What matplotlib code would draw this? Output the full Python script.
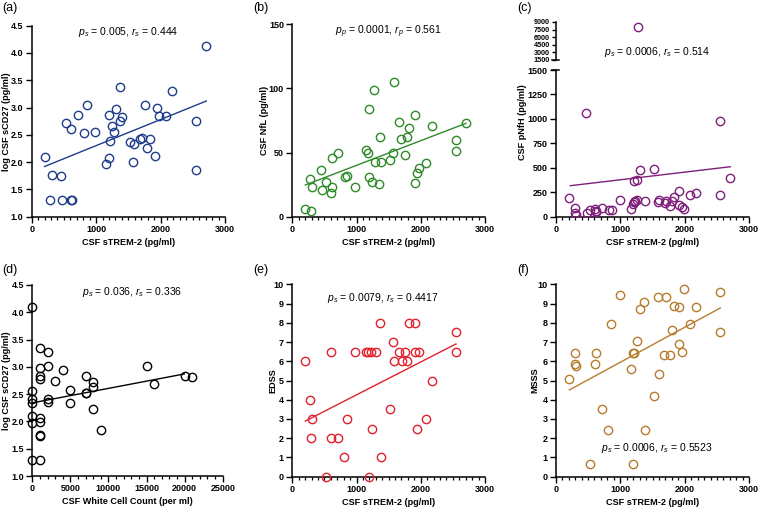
import numpy as np
import matplotlib
matplotlib.use('Agg')
import matplotlib.pyplot as plt
from matplotlib.ticker import MultipleLocator, FormatStrFormatter

plt.rcParams['font.family'] = ['Liberation Sans', 'DejaVu Sans']
plt.rcParams['mathtext.fontset'] = 'custom'
plt.rcParams['mathtext.rm'] = 'Liberation Sans'
plt.rcParams['mathtext.it'] = 'Liberation Sans:italic'

#panel (a): log CSF sCD27 vs sTREM-2
a_x = [210, 310, 455, 290, 471, 610, 626, 528, 615, 714, 812, 859, 988, 1153, 1195, 1215, 1195, 1252,
       1283, 1303, 1371, 1396, 1376, 1521, 1577, 1593, 1681, 1712, 1831, 1759, 1790, 1919, 1945, 1981,
       2090, 2172, 2550, 2555, 2705]
a_y = [2.10, 1.76, 1.75, 1.31, 1.30, 1.30, 1.30, 2.71, 2.60, 2.86, 2.53, 3.04, 2.56, 1.97, 2.08, 2.38,
       2.86, 2.66, 2.55, 2.98, 2.76, 2.82, 3.37, 2.36, 2.01, 2.33, 2.42, 2.44, 2.42, 3.04, 2.25, 2.11,
       3.00, 2.85, 2.84, 3.31, 1.86, 2.75, 4.12]
a_fit_x = [200, 2710]
a_fit_y = [1.92, 3.12]

#panel (b): CSF NfL
b_x = [202, 296, 280, 301, 446, 467, 524, 602, 612, 612, 706, 815, 851, 981, 1142, 1183, 1194, 1189,
       1246, 1272, 1282, 1355, 1365, 1386, 1516, 1568, 1578, 1666, 1697, 1754, 1785, 1822, 1910, 1905,
       1936, 1972, 2081, 2169, 2548, 2548, 2704]
b_y = [6.2, 4.2, 29.1, 23.1, 36.1, 21.1, 27.3, 18.7, 45.8, 23.1, 49.9, 30.9, 31.7, 23.1, 52.3, 49.9,
       83.7, 31.2, 27.3, 98.8, 42.9, 25.7, 62.1, 42.9, 43.9, 49.9, 105, 73.8, 60.8, 48.1, 61.9, 68.9,
       79, 26, 34.1, 38, 42.1, 70.7, 60.1, 51.2, 72.8]
b_fit_x = [202, 2704]
b_fit_y = [24.7, 72.8]

#panel (c): CSF pNfH (broken axis)
c_x = [212, 294, 305, 315, 470, 480, 537, 615, 625, 630, 713, 826, 868, 992, 1162, 1193, 1214, 1234,
       1265, 1307, 1219, 1265, 1379, 1524, 1585, 1596, 1694, 1715, 1766, 1797, 1833, 1911, 1911, 1952,
       1983, 2076, 2179, 2551, 2551, 2706, 1281]
c_y = [194, 85, 41, 17, 1064, 41, 68, 75, 48, 60, 85, 72, 72, 170, 75, 126, 153, 160, 170, 477, 361,
       372, 157, 487, 150, 167, 136, 157, 109, 160, 205, 262, 123, 95, 78, 222, 239, 978, 222, 399, 7950]
c_fit_x = [227, 2706]
c_fit_y = [317, 511]

#panel (d): log CSF sCD27 vs white cell count
d_x = [0, 0, 0, 0, 0, 0, 0, 1000, 1000, 1000, 1000, 1000, 1000, 1000, 1000, 1000, 2000, 2000, 2000,
       2000, 3000, 4000, 5000, 5000, 7000, 7000, 7000, 8000, 8000, 8000, 9000, 15000, 16000, 20000, 21000]
d_y = [4.09, 2.56, 2.41, 2.33, 2.10, 1.97, 1.30, 3.35, 2.98, 2.84, 2.78, 2.07, 1.99, 1.75, 1.74, 1.30,
       3.28, 3.02, 2.41, 2.36, 2.74, 2.95, 2.58, 2.34, 2.83, 2.53, 2.52, 2.73, 2.64, 2.23, 1.84, 3.02,
       2.69, 2.83, 2.81]
d_fit_x = [0, 19960]
d_fit_y = [2.34, 2.87]

#panel (e): EDSS
e_x = [202, 280, 301, 296, 524, 602, 602, 706, 805, 846, 981, 1152, 1183, 1194, 1220, 1246, 1303, 1365,
       1386, 1516, 1568, 1578, 1666, 1702, 1759, 1790, 1816, 1910, 1905, 1936, 1972, 2081, 2169, 2548, 2548]
e_y = [6.0, 4.0, 3.0, 2.0, 0, 6.5, 2.0, 2.0, 1.0, 3.0, 6.5, 6.5, 6.5, 0, 6.5, 2.5, 6.5, 8.0, 1.0, 3.5,
       7.0, 6.0, 6.5, 6.0, 6.5, 6.0, 8.0, 8.0, 6.5, 2.5, 6.5, 3.0, 5.0, 7.5, 6.5]
e_fit_x = [202, 2548]
e_fit_y = [2.89, 6.9]

#panel (f): MSSS
f_x = [212, 294, 305, 315, 532, 615, 625, 713, 816, 857, 992, 1162, 1198, 1203, 1215, 1255, 1301, 1374,
       1389, 1523, 1585, 1596, 1673, 1715, 1766, 1797, 1833, 1911, 1911, 1952, 1983, 2086, 2179, 2551, 2551]
f_y = [5.08, 6.45, 5.88, 5.77, 0.66, 5.86, 6.45, 3.54, 2.44, 7.92, 9.46, 5.60, 0.66, 6.45, 6.45, 7.07,
       8.70, 9.10, 2.44, 4.19, 9.32, 5.34, 6.33, 9.34, 6.33, 7.64, 8.87, 8.80, 6.88, 6.46, 9.77, 7.92,
       8.82, 9.62, 7.54]
f_fit_x = [212, 2551]
f_fit_y = [4.51, 8.77]

W, H = 760, 509
fig = plt.figure(figsize=(W/100, H/100), dpi=100)

def rect(x0, x1, ytop, ybot):
    return [x0/W, 1-ybot/H, (x1-x0)/W, (ybot-ytop)/H]

def style(ax, xminor=100):
    ax.spines['top'].set_visible(False)
    ax.spines['right'].set_visible(False)
    for s in ['left', 'bottom']:
        ax.spines[s].set_linewidth(1.1)
    ax.tick_params(which='major', length=4, width=1.0, labelsize=6.5, pad=2)
    ax.tick_params(which='minor', length=2.2, width=0.9)
    ax.tick_params(axis='y', which='minor', left=False)
    if xminor:
        ax.xaxis.set_minor_locator(MultipleLocator(xminor))
    for lab in ax.get_xticklabels() + ax.get_yticklabels():
        lab.set_fontweight('bold')

def scatter(ax, x, y, fx, fy, col):
    ax.plot(x, y, 'o', ms=6, mfc='none', mec=col, mew=1.0, clip_on=False, zorder=3)
    ax.plot(fx, fy, '-', color=col, lw=1.0)

lab_kw = dict(fontsize=6.6, fontweight='bold')
ann_kw = dict(fontsize=7.5, ha='center', va='center')

#ylabel x coord is the right edge of the rotated text
def labels(ax, xl, yl, ylx, yly=0.5):
    ax.set_xlabel(xl, labelpad=2.5, **lab_kw)
    ax.set_ylabel(yl, **lab_kw)
    ax.yaxis.set_label_coords(ylx, yly)

# (a)
ax = fig.add_axes(rect(31.7, 225, 25.7, 216.7))
scatter(ax, a_x, a_y, a_fit_x, a_fit_y, '#1f3c8c')
ax.set_xlim(0, 3000); ax.set_ylim(1.0, 4.5)
ax.set_xticks([0, 1000, 2000, 3000]); ax.set_yticks(np.arange(1.0, 4.6, 0.5))
ax.yaxis.set_major_formatter(FormatStrFormatter('%.1f'))
style(ax)
labels(ax, 'CSF sTREM-2 (pg/ml)', 'log CSF sCD27 (pg/ml)', -0.108, 0.5)

# (b)
ax = fig.add_axes(rect(292.3, 485, 24.3, 216.7))
scatter(ax, b_x, b_y, b_fit_x, b_fit_y, '#2f8a2a')
ax.set_xlim(0, 3000); ax.set_ylim(0, 150)
ax.set_xticks([0, 1000, 2000, 3000]); ax.set_yticks([0, 50, 100, 150])
style(ax)
labels(ax, 'CSF sTREM-2 (pg/ml)', 'CSF NfL (pg/ml)', -0.1235, 0.5)

# (c) lower part
c_col = '#7d1f7b'
c_x = np.array(c_x); c_y = np.array(c_y)
low = c_y <= 1500
ax = fig.add_axes(rect(555.7, 749.3, 70, 216.7))
ax.plot(c_x[low], c_y[low], 'o', ms=6, mfc='none', mec=c_col, mew=1.0, zorder=3)
ax.plot(c_fit_x, c_fit_y, '-', color=c_col, lw=1.0)
ax.set_xlim(0, 3000); ax.set_ylim(0, 1500)
ax.set_xticks([0, 1000, 2000, 3000]); ax.set_yticks(np.arange(0, 1501, 250))
style(ax)
ax.plot([-0.018, 0.018], [1, 1], transform=ax.transAxes, color='black', lw=1.1, clip_on=False)
labels(ax, 'CSF sTREM-2 (pg/ml)', 'CSF pNfH (pg/ml)', -0.148, 0.645)

# (c) upper part
ax = fig.add_axes(rect(555.7, 749.3, 22, 60))
ax.plot(c_x[~low], c_y[~low], 'o', ms=6, mfc='none', mec=c_col, mew=1.0, zorder=3, clip_on=False)
ax.set_xlim(0, 3000); ax.set_ylim(1500, 9000)
ax.set_yticks(np.arange(1500, 9001, 1500))
ax.spines['top'].set_visible(False)
ax.spines['right'].set_visible(False)
ax.spines['bottom'].set_visible(False)
ax.spines['left'].set_linewidth(1.1)
ax.set_xticks([])
ax.tick_params(axis='y', length=3, width=1.0, labelsize=5.2, pad=1)
for lab in ax.get_yticklabels():
    lab.set_fontweight('bold')
ax.plot([-0.018, 0.018], [0, 0], transform=ax.transAxes, color='black', lw=1.1, clip_on=False)
ax.patch.set_alpha(0)

# (d)
ax = fig.add_axes(rect(32.3, 222.7, 285, 476))
scatter(ax, d_x, d_y, d_fit_x, d_fit_y, 'black')
ax.set_xlim(0, 25000); ax.set_ylim(1.0, 4.5)
ax.set_xticks(np.arange(0, 25001, 5000)); ax.set_yticks(np.arange(1.0, 4.6, 0.5))
ax.yaxis.set_major_formatter(FormatStrFormatter('%.1f'))
style(ax, xminor=1000)
labels(ax, 'CSF White Cell Count (per ml)', 'log CSF sCD27 (pg/ml)', -0.112, 0.5)

# (e)
ax = fig.add_axes(rect(292.3, 485, 284.3, 476.7))
scatter(ax, e_x, e_y, e_fit_x, e_fit_y, '#e2212c')
ax.set_xlim(0, 3000); ax.set_ylim(0, 10)
ax.set_xticks([0, 1000, 2000, 3000]); ax.set_yticks(np.arange(0, 11, 1))
style(ax)
labels(ax, 'CSF sTREM-2 (pg/ml)', 'EDSS', -0.08, 0.5)

# (f)
ax = fig.add_axes(rect(555.7, 749.3, 284.3, 476.7))
scatter(ax, f_x, f_y, f_fit_x, f_fit_y, '#b67c2c')
ax.set_xlim(0, 3000); ax.set_ylim(0, 10)
ax.set_xticks([0, 1000, 2000, 3000]); ax.set_yticks(np.arange(0, 11, 1))
style(ax)
labels(ax, 'CSF sTREM-2 (pg/ml)', 'MSSS', -0.085, 0.5)

# annotations
fig.text(128/W, 1-31.7/H, '$p_s$ = 0.005, $r_s$ = 0.444', **ann_kw)
fig.text(388/W, 1-31.7/H, '$p_p$ = 0.0001, $r_p$ = 0.561', **ann_kw)
fig.text(657/W, 1-51.7/H, '$p_s$ = 0.0006, $r_s$ = 0.514', **ann_kw)
fig.text(132/W, 1-291.7/H, '$p_s$ = 0.036, $r_s$ = 0.336', **ann_kw)
fig.text(383/W, 1-298/H, '$p_s$ = 0.0079, $r_s$ = 0.4417', **ann_kw)
fig.text(657/W, 1-448/H, '$p_s$ = 0.0006, $r_s$ = 0.5523', **ann_kw)

# panel labels
for lx, ly, t in [(2, 8, '(a)'), (253, 8, '(b)'), (517, 8, '(c)'),
                  (2, 270, '(d)'), (253, 270, '(e)'), (517, 270, '(f)')]:
    fig.text(lx/W, 1-ly/H, t, fontsize=9, ha='left', va='center')

fig.savefig('out.png', dpi=100)
